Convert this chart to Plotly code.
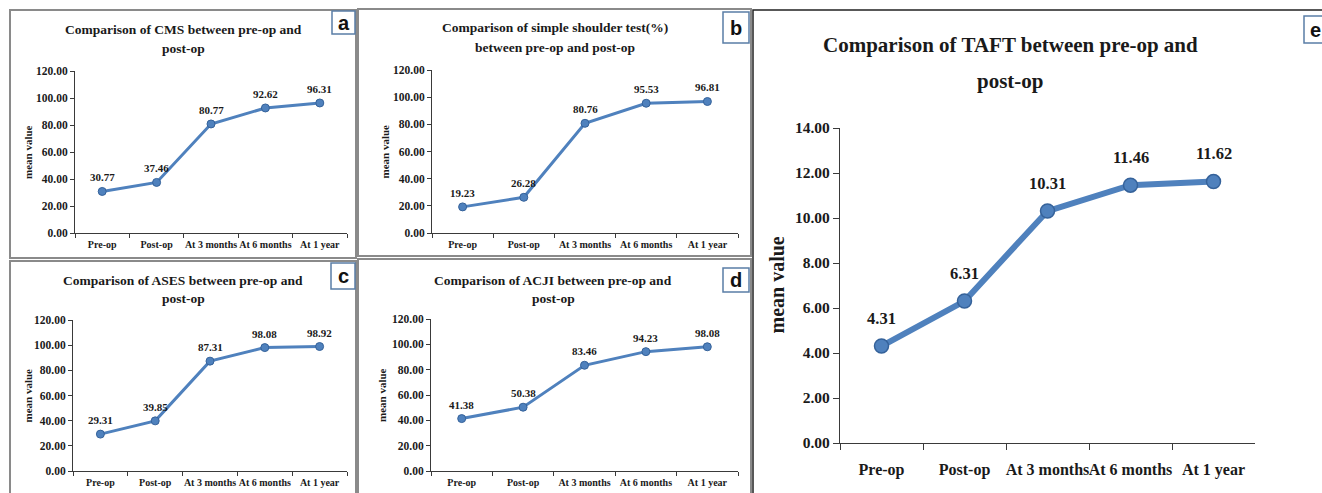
import plotly.graph_objects as go

W, H = 1322, 493

categories = ["Pre-op", "Post-op", "At 3 months", "At 6 months", "At 1 year"]
cms_values = [30.77, 37.46, 80.77, 92.62, 96.31]
sst_values = [19.23, 26.28, 80.76, 95.53, 96.81]
ases_values = [29.31, 39.85, 87.31, 98.08, 98.92]
acji_values = [41.38, 50.38, 83.46, 94.23, 98.08]
taft_values = [4.31, 6.31, 10.31, 11.46, 11.62]

titles = {
    "a": ["Comparison of CMS between pre-op and", "post-op"],
    "b": ["Comparison of simple shoulder test(%)", "between pre-op and post-op"],
    "c": ["Comparison of ASES between pre-op and", "post-op"],
    "d": ["Comparison of ACJI between pre-op and", "post-op"],
    "e": ["Comparison of TAFT between pre-op and", "post-op"],
}

SERIF = "Liberation Serif"
LINE = "#4F81BD"
EDGE = "#35629a"
TXT = "#1a1a1a"


def px(x):
    return x / W


def py(y):
    return 1 - y / H


panels = [
    dict(key="a", vals=cms_values, x0=75, x1=347, yt=71, yb=233, tx=183, ty=[30, 48],
         rng=[0, 120], dt=20, big=False, ytx=28, box=(332, 11, 355, 34)),
    dict(key="b", vals=sst_values, x0=432, x1=738, yt=70, yb=233, tx=555, ty=[28, 47],
         rng=[0, 120], dt=20, big=False, ytx=384, box=(723, 12, 749, 43)),
    dict(key="c", vals=ases_values, x0=73, x1=347, yt=320, yb=471, tx=183, ty=[280, 298],
         rng=[0, 120], dt=20, big=False, ytx=27, box=(331, 263, 355, 289)),
    dict(key="d", vals=acji_values, x0=431, x1=738, yt=319, yb=471, tx=553, ty=[280, 298],
         rng=[0, 120], dt=20, big=False, ytx=382, box=(723, 268, 749, 292)),
    dict(key="e", vals=taft_values, x0=840, x1=1255, yt=128, yb=443, tx=1010, ty=[45, 81],
         rng=[0, 14], dt=2, big=True, ytx=776, box=(1304, 16, 1330, 43)),
]

fig = go.Figure()
annotations = []
shapes = []
layout_axes = {}

for i, p in enumerate(panels):
    n = "" if i == 0 else str(i + 1)
    xa, ya = "x" + n, "y" + n
    big = p["big"]
    fs_ytick = 15.5 if big else 11.5
    fs_xtick = 16 if big else 10
    fs_lab = 16.5 if big else 11
    lw = 6 if big else 3
    ms = 14 if big else 8
    fig.add_trace(go.Scatter(
        x=categories, y=p["vals"], mode="lines+markers",
        line=dict(color=LINE, width=lw),
        marker=dict(size=ms, color=LINE, line=dict(color=EDGE, width=1.5 if big else 1)),
        xaxis=xa, yaxis=ya, showlegend=False, hoverinfo="skip",
    ))
    for c, v in zip(categories, p["vals"]):
        annotations.append(dict(
            x=c, y=v, xref=xa, yref=ya, text=f"<b>{v:.2f}</b>", showarrow=False,
            yshift=28 if big else 14,
            font=dict(family=SERIF, size=fs_lab, color=TXT),
        ))
    common = dict(
        showline=True, linecolor="#3a3a3a", linewidth=1.2 if big else 1,
        ticks="outside", ticklen=6 if big else 4, tickcolor="#3a3a3a",
        showgrid=False, zeroline=False, automargin=False, fixedrange=True,
    )
    layout_axes["xaxis" + n] = dict(
        domain=[px(p["x0"]), px(p["x1"])], anchor=ya,
        type="category", categoryorder="array", categoryarray=categories,
        range=[-0.5, 4.5], tickson="boundaries", tickangle=0,
        ticklabelstandoff=12 if big else 2,
        tickfont=dict(family=SERIF, size=fs_xtick, color=TXT, weight="bold"),
        **common,
    )
    layout_axes["yaxis" + n] = dict(
        domain=[py(p["yb"]), py(p["yt"])], anchor=xa,
        range=p["rng"], dtick=p["dt"], tickformat=".2f",
        tickfont=dict(family=SERIF, size=fs_ytick, color=TXT, weight="bold"),
        **common,
    )
    for line, yy in zip(titles[p["key"]], p["ty"]):
        annotations.append(dict(
            x=px(p["tx"]), y=py(yy), xref="paper", yref="paper", text=f"<b>{line}</b>",
            showarrow=False, xanchor="center", yanchor="middle",
            font=dict(family=SERIF, size=21 if big else 13.5, color=TXT),
        ))
    annotations.append(dict(
        x=px(p["ytx"]), y=py((p["yt"] + p["yb"]) / 2), xref="paper", yref="paper",
        text="<b>mean value</b>", textangle=-90, showarrow=False,
        xanchor="center", yanchor="middle",
        font=dict(family=SERIF, size=20 if big else 11, color=TXT),
    ))
    bx0, by0, bx1, by1 = p["box"]
    shapes.append(dict(type="rect", xref="paper", yref="paper",
                       x0=px(bx0), x1=px(bx1), y0=py(by1), y1=py(by0),
                       line=dict(color="#5a7ea6", width=1.5), fillcolor="white"))
    cx = (bx0 + bx1) / 2 if p["key"] != "e" else bx0 + 11
    annotations.append(dict(
        x=px(cx), y=py((by0 + by1) / 2),
        xref="paper", yref="paper", text=f"<b>{p['key']}</b>", showarrow=False,
        xanchor="center", yanchor="middle",
        font=dict(family="Liberation Sans", size=20, color="#111"),
    ))

frames = [
    (10, 10, 356, 258, "#8a8a8a", 2),
    (358, 9, 751, 256, "#8a8a8a", 2),
    (10, 261, 356, 520, "#8a8a8a", 2),
    (358, 259, 751, 520, "#8a8a8a", 2),
    (753, 10, 1340, 520, "#222222", 1.5),
]
frame_shapes = []
for x0, y0, x1, y1, col, w in frames:
    frame_shapes.append(dict(type="rect", xref="paper", yref="paper",
                             x0=px(x0), x1=px(x1), y0=py(y1), y1=py(y0),
                             line=dict(color=col, width=w), layer="below"))

fig.update_layout(
    width=W, height=H, margin=dict(l=0, r=0, t=0, b=0, autoexpand=False),
    paper_bgcolor="white", plot_bgcolor="rgba(0,0,0,0)",
    annotations=annotations, shapes=frame_shapes + shapes,
    **layout_axes,
)

fig.write_html(
    "out.html",
    config={"displayModeBar": False},
    post_script="document.body.style.margin='0';document.body.style.overflow='hidden';",
)
